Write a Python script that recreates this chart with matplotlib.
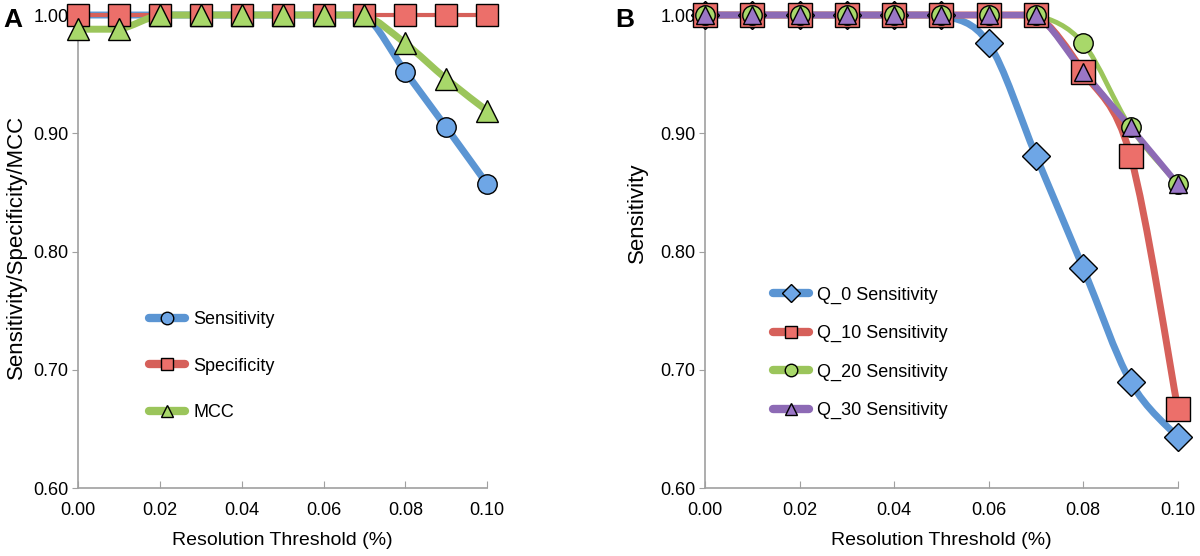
import numpy as np
import matplotlib
matplotlib.use("Agg")
import matplotlib.pyplot as plt
from matplotlib.path import Path
from matplotlib.patches import PathPatch
from matplotlib.lines import Line2D

plt.rcParams['font.family'] = ['Liberation Sans', 'DejaVu Sans']

thresholds = [0.00, 0.01, 0.02, 0.03, 0.04, 0.05, 0.06, 0.07, 0.08, 0.09, 0.10]

# panel A
sensitivity = [1.0, 1.0, 1.0, 1.0, 1.0, 1.0, 1.0, 1.0, 0.952, 0.905, 0.857]
specificity = [1.0, 1.0, 1.0, 1.0, 1.0, 1.0, 1.0, 1.0, 1.0, 1.0, 1.0]
mcc = [0.988, 0.988, 1.0, 1.0, 1.0, 1.0, 1.0, 1.0, 0.976, 0.946, 0.919]

# panel B
q0_sens = [1.0, 1.0, 1.0, 1.0, 1.0, 1.0, 0.976, 0.881, 0.786, 0.690, 0.643]
q10_sens = [1.0, 1.0, 1.0, 1.0, 1.0, 1.0, 1.0, 1.0, 0.952, 0.881, 0.667]
q20_sens = [1.0, 1.0, 1.0, 1.0, 1.0, 1.0, 1.0, 1.0, 0.976, 0.905, 0.857]
q30_sens = [1.0, 1.0, 1.0, 1.0, 1.0, 1.0, 1.0, 1.0, 0.952, 0.905, 0.857]

BLUE = '#5B95D3'
RED = '#D6605A'
GREEN = '#9BC55B'
PURPLE = '#8D6AB5'
BLUE_M = '#6EA6E6'
RED_M = '#EC6F6A'
GREEN_M = '#A8D86A'
PURPLE_M = '#9A76C6'


def smooth_line(ax, x, y, color, lw):
    # smoothed line: cubic bezier through the points, no overshoot
    x = np.asarray(x, float)
    y = np.asarray(y, float)
    n = len(x)
    verts = [(x[0], y[0])]
    codes = [Path.MOVETO]
    for i in range(n - 1):
        i0 = max(i - 1, 0)
        i3 = min(i + 2, n - 1)
        lo, hi = min(y[i], y[i + 1]), max(y[i], y[i + 1])
        c1y = np.clip(y[i] + (y[i + 1] - y[i0]) / 6, lo, hi)
        c2y = np.clip(y[i + 1] - (y[i3] - y[i]) / 6, lo, hi)
        c1 = (x[i] + (x[i + 1] - x[i0]) / 6, c1y)
        c2 = (x[i + 1] - (x[i3] - x[i]) / 6, c2y)
        verts += [c1, c2, (x[i + 1], y[i + 1])]
        codes += [Path.CURVE4] * 3
    patch = PathPatch(Path(verts, codes), facecolor='none', edgecolor=color,
                      lw=lw, capstyle='round', joinstyle='round', zorder=2)
    patch.set_clip_on(False)
    ax.add_patch(patch)


def style_axes(ax, ylabel):
    ax.set_xlim(0, 0.10)
    ax.set_ylim(0.60, 1.00)
    ax.set_xticks([0.00, 0.02, 0.04, 0.06, 0.08, 0.10])
    ax.set_yticks([0.60, 0.70, 0.80, 0.90, 1.00])
    ax.xaxis.set_major_formatter(matplotlib.ticker.FormatStrFormatter('%.2f'))
    ax.yaxis.set_major_formatter(matplotlib.ticker.FormatStrFormatter('%.2f'))
    for s in ['top', 'right']:
        ax.spines[s].set_visible(False)
    for s in ['left', 'bottom']:
        ax.spines[s].set_color('#A0A0A0')
        ax.spines[s].set_linewidth(1.2)
    ax.tick_params(axis='x', direction='in', length=5, color='#A0A0A0',
                   labelsize=13, pad=10)
    ax.tick_params(axis='y', direction='out', length=4, color='#A0A0A0',
                   labelsize=13, pad=3)
    ax.set_xlabel('Resolution Threshold (%)', fontsize=14, labelpad=9)
    ax.set_ylabel(ylabel, fontsize=16)


fig = plt.figure(figsize=(12, 5.56), dpi=100)
axA = fig.add_axes([0.065, 0.122, 0.341, 0.851])
axB = fig.add_axes([0.5875, 0.122, 0.394, 0.851])

# panel A
seriesA = [
    (sensitivity, 'Sensitivity', BLUE, BLUE_M, 'o', 5, 14),
    (specificity, 'Specificity', RED, RED_M, 's', 3, 16),
    (mcc, 'MCC', GREEN, GREEN_M, '^', 5, 16),
]
handlesA = []
for vals, name, lc, mc, mk, lw, ms in seriesA:
    smooth_line(axA, thresholds, vals, lc, lw)
    axA.plot(thresholds, vals, ls='none', marker=mk, ms=ms, mfc=mc, mec='black',
             mew=1.0, zorder=3, clip_on=False)
    handlesA.append(Line2D([0], [0], color=lc, lw=6, marker=mk, ms=9, mfc=mc,
                           mec='black', mew=1.0, solid_capstyle='round'))
style_axes(axA, 'Sensitivity/Specificity/MCC')
axA.yaxis.set_label_coords(-0.125, 0.51)
axA.legend(handlesA, [s[1] for s in seriesA], loc='center left',
           bbox_to_anchor=(0.152, 0.258), frameon=False, fontsize=13,
           borderpad=0, handlelength=2.0, labelspacing=1.64, handletextpad=0.45)

# panel B
seriesB = [
    (q0_sens, 'Q_0 Sensitivity', BLUE, BLUE_M, 'D', 5, 14),
    (q10_sens, 'Q_10 Sensitivity', RED, RED_M, 's', 5, 17),
    (q20_sens, 'Q_20 Sensitivity', GREEN, GREEN_M, 'o', 3.5, 14),
    (q30_sens, 'Q_30 Sensitivity', PURPLE, PURPLE_M, '^', 4.5, 13),
]
handlesB = []
for vals, name, lc, mc, mk, lw, ms in seriesB:
    smooth_line(axB, thresholds, vals, lc, lw)
    axB.plot(thresholds, vals, ls='none', marker=mk, ms=ms, mfc=mc, mec='black',
             mew=1.0, zorder=3, clip_on=False)
    handlesB.append(Line2D([0], [0], color=lc, lw=6, marker=mk, ms=9, mfc=mc,
                           mec='black', mew=1.0, solid_capstyle='round'))
style_axes(axB, 'Sensitivity')
axB.yaxis.set_label_coords(-0.12, 0.583)
axB.legend(handlesB, [s[1] for s in seriesB], loc='center left',
           bbox_to_anchor=(0.125, 0.286), frameon=False, fontsize=13,
           borderpad=0, handlelength=2.0, labelspacing=1.18, handletextpad=0.45)

fig.text(0.003, 0.985, 'A', fontsize=19, fontweight='bold', va='top')
fig.text(0.513, 0.985, 'B', fontsize=19, fontweight='bold', va='top')

fig.savefig('out.png', dpi=100)
